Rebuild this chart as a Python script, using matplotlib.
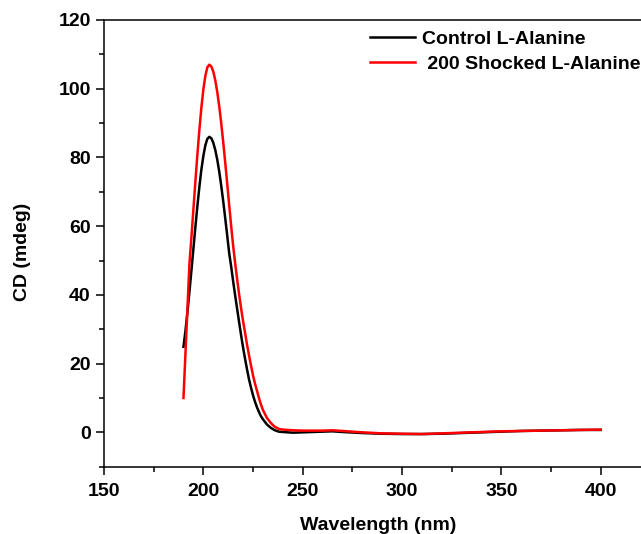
import matplotlib
matplotlib.use("Agg")
import matplotlib.pyplot as plt
from matplotlib.ticker import MultipleLocator

plt.rcParams['font.family'] = ['Liberation Sans', 'DejaVu Sans']
plt.rcParams['font.weight'] = 'bold'

# wavelength (nm) and CD (mdeg)
wl_ctrl = [190, 191, 192, 193, 194, 195, 196, 197, 198, 199, 200, 201, 202, 203,
           204, 205, 206, 207, 208, 209, 210, 211, 212, 213, 214, 215, 216, 217,
           218, 219, 220, 221, 222, 223, 224, 225, 226, 227, 228, 229, 230, 232,
           234, 236, 238, 240, 245, 250, 255, 260, 265, 270, 280, 290, 300, 310,
           320, 330, 340, 350, 360, 370, 380, 390, 400]
cd_ctrl = [24.9, 29.5, 35.0, 40.9, 47.1, 53.4, 59.8, 65.8, 71.4, 76.4, 80.4, 83.5, 85.4, 86.0,
           85.6, 84.3, 82.2, 79.4, 75.9, 71.8, 67.3, 62.4, 57.4, 52.2, 48.3, 44.0, 39.9, 36.0,
           32.1, 28.3, 24.7, 21.4, 18.3, 15.4, 13.0, 10.8, 8.9, 7.3, 5.9, 4.7, 3.8, 2.3,
           1.3, 0.6, 0.2, 0.1, -0.1, 0.0, 0.1, 0.2, 0.3, 0.1, -0.2, -0.4, -0.5, -0.5,
           -0.4, -0.2, 0.0, 0.2, 0.4, 0.5, 0.6, 0.7, 0.7]

wl_shock = [190, 191, 192, 193, 194, 195, 196, 197, 198, 199, 200, 201, 202, 203,
            204, 205, 206, 207, 208, 209, 210, 211, 212, 213, 214, 215, 216, 217,
            218, 219, 220, 221, 222, 223, 224, 225, 226, 227, 228, 229, 230, 232,
            234, 236, 238, 240, 245, 250, 255, 260, 265, 270, 280, 290, 300, 310,
            320, 330, 340, 350, 360, 370, 380, 390, 400]
cd_shock = [10.0, 23.0, 36.0, 49.0, 56.8, 64.9, 73.0, 80.8, 88.0, 94.4, 99.7, 103.7, 106.2, 107.0,
            106.5, 105.0, 102.5, 99.1, 94.9, 90.0, 84.5, 78.6, 72.5, 66.2, 60.1, 54.3, 49.3, 44.6,
            40.2, 36.1, 32.4, 29.0, 25.5, 22.4, 19.4, 16.6, 14.2, 12.1, 10.0, 8.1, 6.5, 4.2,
            2.7, 1.6, 1.0, 0.8, 0.6, 0.5, 0.5, 0.5, 0.6, 0.4, 0.0, -0.3, -0.4, -0.5,
            -0.3, -0.1, 0.1, 0.3, 0.4, 0.5, 0.6, 0.7, 0.8]

fig = plt.figure(figsize=(6.41, 5.34), dpi=100)
ax = fig.add_axes([104/641, 1 - 466.7/534, 1 - 104/641, (466.7 - 20)/534])

ax.plot(wl_ctrl, cd_ctrl, color='black', lw=1.8, label='Control L-Alanine')
ax.plot(wl_shock, cd_shock, color='red', lw=1.8, label=' 200 Shocked L-Alanine')

ax.set_xlim(150, 420.3)
ax.set_ylim(-10, 120)
ax.xaxis.set_major_locator(MultipleLocator(50))
ax.xaxis.set_minor_locator(MultipleLocator(25))
ax.yaxis.set_major_locator(MultipleLocator(20))
ax.yaxis.set_minor_locator(MultipleLocator(10))
ax.tick_params(which='major', direction='out', length=5.5, width=1.1, labelsize=14)
ax.tick_params(axis='x', which='major', pad=6)
ax.tick_params(axis='y', which='major', pad=4)
ax.tick_params(which='minor', direction='out', length=3.5, width=1.1)
ax.tick_params(top=False, right=False, which='both')
for side in ['left', 'bottom', 'top']:
    ax.spines[side].set_linewidth(1.1)
ax.spines['right'].set_visible(False)

ax.set_xlabel('Wavelength (nm)', fontsize=14, fontweight='bold')
ax.set_ylabel('CD (mdeg)', fontsize=14, fontweight='bold')
ax.xaxis.set_label_coords((378 - 104) / 537, -(517 - 466.7) / 446.7)
ax.yaxis.set_label_coords(-(104 - 31) / 537, (466.7 - 252) / 446.7)
ax.xaxis.label.set_va('top')

ax.legend(loc='upper left', bbox_to_anchor=(370/641, 1 - 30/534),
          bbox_transform=fig.transFigure, frameon=False, fontsize=14,
          handlelength=2.3, handletextpad=0.4, labelspacing=0.4, borderpad=0,
          borderaxespad=0)

fig.savefig('out.png', dpi=100)
